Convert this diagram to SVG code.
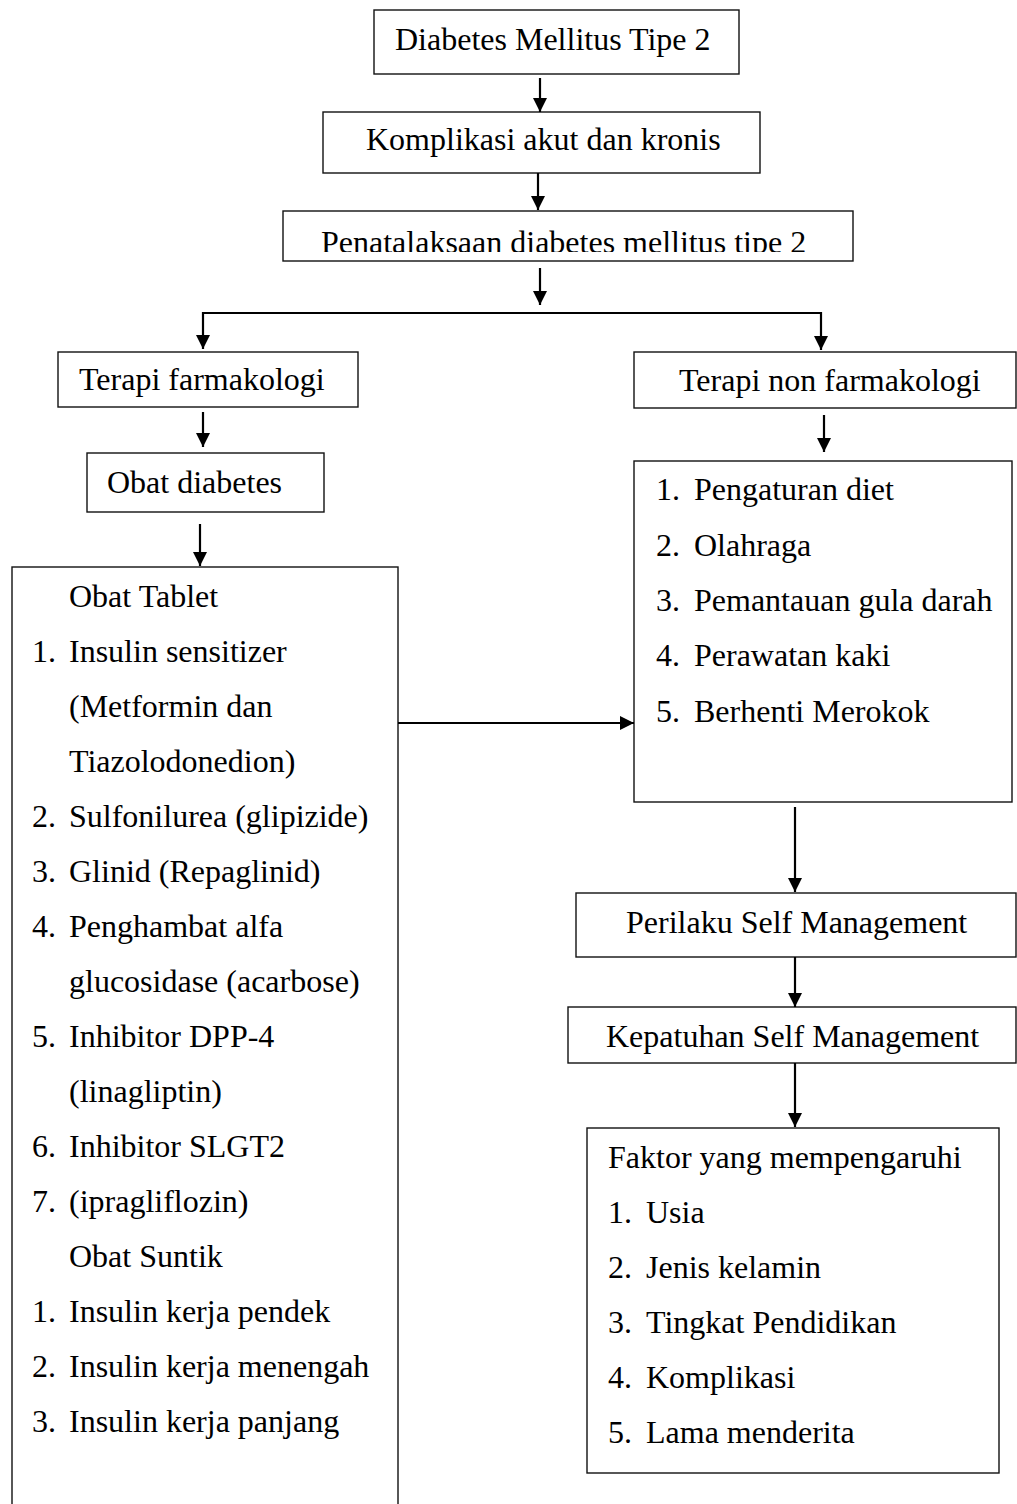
<svg xmlns="http://www.w3.org/2000/svg" width="1017" height="1504" viewBox="0 0 1017 1504">
<style>
rect.box{fill:#fff;stroke:#111;stroke-width:1.4}
text{font-family:"Liberation Serif","Times New Roman",serif;font-size:32px;fill:#000}
.conn path{fill:none;stroke:#000;stroke-width:2.2}
</style>
<defs>
<marker id="ah" markerUnits="userSpaceOnUse" markerWidth="14" markerHeight="14" viewBox="0 0 14 14" refX="14" refY="7" orient="auto">
<path d="M0,0 L14,7 L0,14 Z" fill="#000"/>
</marker>
<clipPath id="clip3"><rect x="283" y="211" width="570" height="41"/></clipPath>
</defs>
<rect width="1017" height="1504" fill="#fff"/>

<g id="n1"><rect class="box" x="374" y="10" width="365" height="64"/><text x="395" y="50">Diabetes Mellitus Tipe 2</text></g>
<g id="n2"><rect class="box" x="323" y="112" width="437" height="61"/><text x="366" y="150">Komplikasi akut dan kronis</text></g>
<g id="n3"><rect class="box" x="283" y="211" width="570" height="50"/><text x="321" y="253" clip-path="url(#clip3)">Penatalaksaan diabetes mellitus tipe 2</text></g>
<g id="n4"><rect class="box" x="58" y="352" width="300" height="55"/><text x="79" y="390">Terapi farmakologi</text></g>
<g id="n5"><rect class="box" x="87" y="453" width="237" height="59"/><text x="107" y="493">Obat diabetes</text></g>
<g id="n6"><rect class="box" x="12" y="567" width="386" height="960"/>
<text x="69" y="607">Obat Tablet</text>
<text x="32" y="662">1.</text><text x="69" y="662">Insulin sensitizer</text>
<text x="69" y="717">(Metformin dan</text>
<text x="69" y="772">Tiazolodonedion)</text>
<text x="32" y="827">2.</text><text x="69" y="827">Sulfonilurea (glipizide)</text>
<text x="32" y="882">3.</text><text x="69" y="882">Glinid (Repaglinid)</text>
<text x="32" y="937">4.</text><text x="69" y="937">Penghambat alfa</text>
<text x="69" y="992">glucosidase (acarbose)</text>
<text x="32" y="1047">5.</text><text x="69" y="1047">Inhibitor DPP-4</text>
<text x="69" y="1102">(linagliptin)</text>
<text x="32" y="1157">6.</text><text x="69" y="1157">Inhibitor SLGT2</text>
<text x="32" y="1212">7.</text><text x="69" y="1212">(ipragliflozin)</text>
<text x="69" y="1267">Obat Suntik</text>
<text x="32" y="1322">1.</text><text x="69" y="1322">Insulin kerja pendek</text>
<text x="32" y="1377">2.</text><text x="69" y="1377">Insulin kerja menengah</text>
<text x="32" y="1432">3.</text><text x="69" y="1432">Insulin kerja panjang</text>
</g>
<g id="n7"><rect class="box" x="634" y="352" width="382" height="56"/><text x="679" y="391">Terapi non farmakologi</text></g>
<g id="n8"><rect class="box" x="634" y="461" width="378" height="341"/>
<text x="656" y="500">1.</text><text x="694" y="500">Pengaturan diet</text>
<text x="656" y="556">2.</text><text x="694" y="556">Olahraga</text>
<text x="656" y="611">3.</text><text x="694" y="611">Pemantauan gula darah</text>
<text x="656" y="666">4.</text><text x="694" y="666">Perawatan kaki</text>
<text x="656" y="722">5.</text><text x="694" y="722">Berhenti Merokok</text>
</g>
<g id="n9"><rect class="box" x="576" y="893" width="440" height="64"/><text x="626" y="933">Perilaku Self Management</text></g>
<g id="n10"><rect class="box" x="568" y="1007" width="448" height="56"/><text x="606" y="1047">Kepatuhan Self Management</text></g>
<g id="n11"><rect class="box" x="587" y="1128" width="412" height="345"/>
<text x="608" y="1168">Faktor yang mempengaruhi</text>
<text x="608" y="1223">1.</text><text x="646" y="1223">Usia</text>
<text x="608" y="1278">2.</text><text x="646" y="1278">Jenis kelamin</text>
<text x="608" y="1333">3.</text><text x="646" y="1333">Tingkat Pendidikan</text>
<text x="608" y="1388">4.</text><text x="646" y="1388">Komplikasi</text>
<text x="608" y="1443">5.</text><text x="646" y="1443">Lama menderita</text>
</g>

<g class="conn" id="connectors">
<path d="M540,78 V112" marker-end="url(#ah)"/>
<path d="M538,173 V210" marker-end="url(#ah)"/>
<path d="M540,268 V305" marker-end="url(#ah)"/>
<path d="M540,313 H203 V349" marker-end="url(#ah)"/>
<path d="M540,313 H821 V350" marker-end="url(#ah)"/>
<path d="M203,412 V447" marker-end="url(#ah)"/>
<path d="M200,524 V566" marker-end="url(#ah)"/>
<path d="M824,415 V452" marker-end="url(#ah)"/>
<path d="M398,723 H634" marker-end="url(#ah)"/>
<path d="M795,807 V892" marker-end="url(#ah)"/>
<path d="M795,957 V1007" marker-end="url(#ah)"/>
<path d="M795,1063 V1127" marker-end="url(#ah)"/>
</g>
</svg>
